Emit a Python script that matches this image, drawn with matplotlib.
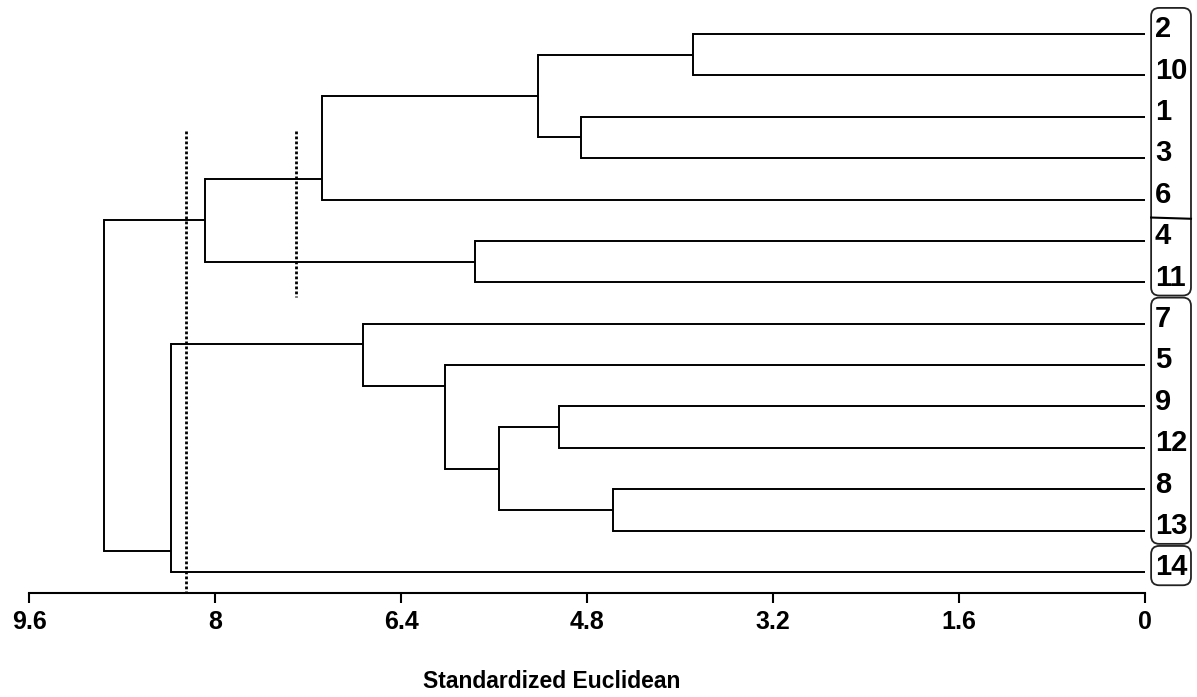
import matplotlib
matplotlib.use("Agg")
import matplotlib.pyplot as plt
from matplotlib.patches import FancyBboxPatch

plt.rcParams['font.family'] = ['Liberation Sans', 'DejaVu Sans']

# leaves, top to bottom
leaves = ["2", "10", "1", "3", "6", "4", "11", "7", "5", "9", "12", "8", "13", "14"]

# merges: (child a, child b, distance); clusters are named c0, c1, ...
merge_a = ["2", "1", "c0", "c2", "4", "c3", "9", "8", "c6", "5", "7", "c10", "c5"]
merge_b = ["10", "3", "c1", "6", "11", "c4", "12", "13", "c7", "c8", "c9", "14", "c11"]
merge_h = [3.89, 4.85, 5.22, 7.08, 5.77, 8.09, 5.04, 4.58, 5.56, 6.02, 6.73, 8.38, 8.96]

# cut levels (dotted lines)
cut_levels = [8.25, 7.31]

# groups boxed at the right (first leaf, last leaf)
groups = [("2", "11"), ("7", "13"), ("14", "14")]
group_split = ("6", "4")

xticks = [9.6, 8, 6.4, 4.8, 3.2, 1.6, 0]
xticklabels = ["9.6", "8", "6.4", "4.8", "3.2", "1.6", "0"]
xlabel = "Standardized Euclidean"

W, H = 1197, 697
fig = plt.figure(figsize=(W / 100.0, H / 100.0), dpi=100)
ax_left, ax_right = 29.3, 1145.3
ax_top, ax_bot = 0.0, 592.7
ax = fig.add_axes([ax_left / W, 1 - ax_bot / H, (ax_right - ax_left) / W, (ax_bot - ax_top) / H])

lw = 1.4
pos = {name: float(i) for i, name in enumerate(leaves)}
hgt = {name: 0.0 for name in leaves}

for k, (a, b, h) in enumerate(zip(merge_a, merge_b, merge_h)):
    for c in (a, b):
        ax.plot([hgt[c], h], [pos[c], pos[c]], color='black', lw=lw, solid_capstyle='butt')
    ax.plot([h, h], [pos[a], pos[b]], color='black', lw=lw, solid_capstyle='projecting')
    # a single leaf joining a cluster: the link sits half a step off the leaf
    a_leaf, b_leaf = a in leaves, b in leaves
    if a_leaf and not b_leaf:
        p = pos[a] + (0.5 if pos[b] > pos[a] else -0.5)
    elif b_leaf and not a_leaf:
        p = pos[b] + (0.5 if pos[a] > pos[b] else -0.5)
    else:
        p = (pos[a] + pos[b]) / 2.0
    name = "c%d" % k
    pos[name] = p
    hgt[name] = h

ylim_bottom = 13.5
ylim_top = -0.821
ax.set_xlim(9.6, 0)
ax.set_ylim(ylim_bottom, ylim_top)

# dotted cut lines
dot_top = 2.35
dot_bottoms = [ylim_bottom, 6.35]
for lev, yb in zip(cut_levels, dot_bottoms):
    ax.plot([lev, lev], [dot_top, yb], color='black', lw=2.0, linestyle=(0, (1, 0.8)),
            clip_on=False)

# leaf labels
for name in leaves:
    ax.text(-0.083, pos[name] + 0.08, name, ha='left', va='baseline',
            fontsize=21, fontweight='bold', clip_on=False)

# boxes around groups
bx0, bx1 = -0.393, -0.05
pad_top, pad_bot = 0.63, 0.32
for first, last in groups:
    y0 = pos[first] - pad_top
    y1 = pos[last] + pad_bot
    box = FancyBboxPatch((bx0, y0), bx1 - bx0, y1 - y0,
                         boxstyle="round,pad=0,rounding_size=0.07",
                         mutation_aspect=116.25 / 41.4,
                         fill=False, edgecolor='#222222', lw=1.3, clip_on=False)
    ax.add_patch(box)
ysplit = (pos[group_split[0]] + pos[group_split[1]]) / 2.0 - 0.05
ax.plot([bx0, bx1], [ysplit + 0.015, ysplit - 0.015], color='black', lw=1.5, clip_on=False)

# axes styling
for s in ['top', 'left', 'right']:
    ax.spines[s].set_visible(False)
ax.spines['bottom'].set_linewidth(1.5)
ax.spines['bottom'].set_position(('data', ylim_bottom))
ax.set_yticks([])
ax.set_xticks(xticks)
ax.set_xticklabels(xticklabels)
ax.tick_params(axis='x', direction='out', length=7.5, width=1.5, pad=5, labelsize=18)
for t in ax.get_xticklabels():
    t.set_fontweight('bold')

fig.text(551.7 / W, 1 - 682.0 / H, xlabel, ha='center', va='center',
         fontsize=16.5, fontweight='bold')

fig.savefig("out.png", dpi=100)
